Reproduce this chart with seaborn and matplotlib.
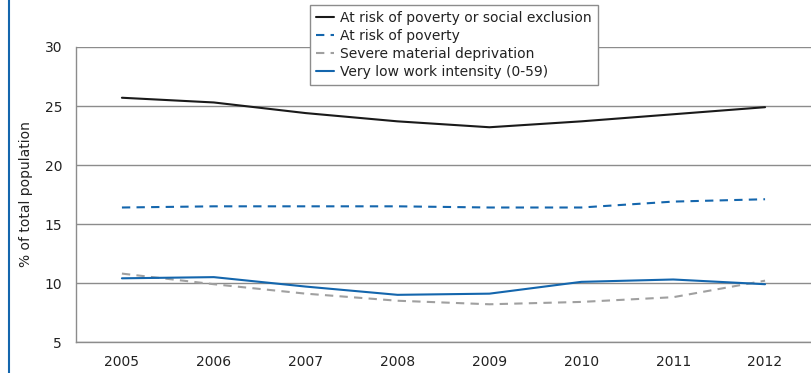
import numpy as np
import pandas as pd
import seaborn as sns
import matplotlib.pyplot as plt
from matplotlib.lines import Line2D

# Data
years = ["2005", "2006", "2007", "2008", "2009", "2010", "2011", "2012"]
arope = [25.7, 25.3, 24.4, 23.7, 23.2, 23.7, 24.3, 24.9]
arop = [16.4, 16.5, 16.5, 16.5, 16.4, 16.4, 16.9, 17.1]
smd = [10.8, 9.9, 9.1, 8.5, 8.2, 8.4, 8.8, 10.2]
lwi = [10.4, 10.5, 9.7, 9.0, 9.1, 10.1, 10.3, 9.9]

series_names = ["At risk of poverty or social exclusion", "At risk of poverty",
                "Severe material deprivation", "Very low work intensity (0-59)"]

df = pd.DataFrame({"pos": list(range(len(years))) * 4,
                   "value": arope + arop + smd + lwi,
                   "series": np.repeat(series_names, len(years))})

sns.set_style("white")
plt.rcParams["font.family"] = ["DejaVu Sans"]

fig = plt.figure(figsize=(8.11, 3.73), dpi=100)
ax = fig.add_axes([0.0937, 0.083, 0.9063, 0.791])

colors = {series_names[0]: "#1a1a1a", series_names[1]: "#1466ad",
          series_names[2]: "#a0a0a0", series_names[3]: "#1466ad"}
styles = {series_names[0]: "", series_names[1]: (4, 3),
          series_names[2]: (4, 3), series_names[3]: ""}

sns.lineplot(data=df, x="pos", y="value", hue="series", style="series",
             palette=colors, dashes=styles, linewidth=1.5, ax=ax, legend=False)

ax.set_xlim(-0.5, len(years) - 0.5)
ax.set_ylim(5, 30)
ax.set_yticks([5, 10, 15, 20, 25, 30])
ax.set_xticks(range(len(years)))
ax.set_xticklabels(years)
ax.set_xticks(np.arange(-0.5, len(years), 1), minor=True)
ax.tick_params(axis="x", which="major", length=0, pad=9, labelsize=10, colors="#222222")
ax.tick_params(axis="x", which="minor", length=7, color="#888888", width=1)
ax.tick_params(axis="y", length=0, pad=10, labelsize=10, colors="#222222")
ax.yaxis.grid(True, color="#8c8c8c", linewidth=1)
ax.set_axisbelow(True)
for s in ["top", "right"]:
    ax.spines[s].set_visible(False)
for s in ["left", "bottom"]:
    ax.spines[s].set_color("#8c8c8c")
    ax.spines[s].set_linewidth(1)
ax.set_xlabel("")
ax.set_ylabel("% of total population", fontsize=10, color="#222222", labelpad=8)

handles = [Line2D([], [], color=colors[n], linewidth=1.5,
                  linestyle="-" if styles[n] == "" else (0, styles[n])) for n in series_names]
leg = fig.legend(handles, series_names, loc="upper left", bbox_to_anchor=(0.382, 0.987),
                 frameon=True, fancybox=False, fontsize=10, handlelength=1.3,
                 handletextpad=0.4, labelspacing=0.28, borderpad=0.45, borderaxespad=0,
                 labelcolor="#222222")
leg.get_frame().set_edgecolor("#8c8c8c")
leg.get_frame().set_linewidth(1)
leg.get_frame().set_alpha(1)

# blue rule at the left edge
fig.add_artist(Line2D([0.0105, 0.0105], [0, 1], color="#1466ad", linewidth=1.5,
                      transform=fig.transFigure))

fig.savefig("out.png", dpi=100)
